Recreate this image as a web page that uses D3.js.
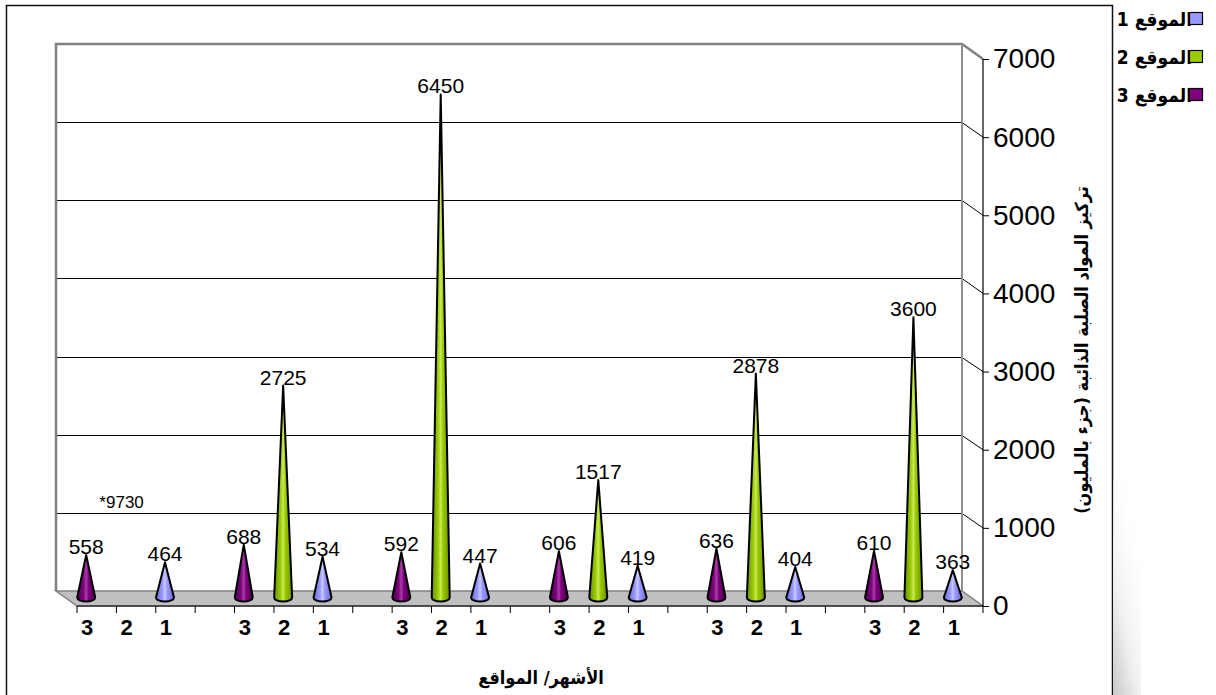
<!DOCTYPE html>
<html>
<head>
<meta charset="utf-8">
<script src="https://cdn.jsdelivr.net/npm/d3@7"></script>
<style>
  html, body { margin: 0; padding: 0; background: #fff; }
  svg { display: block; }
  text { font-family: "Liberation Sans", "DejaVu Sans", Arial, sans-serif; }
  text.ar { font-family: "DejaVu Sans Condensed", "DejaVu Sans", sans-serif; }
</style>
</head>
<body>
<svg id="chart" width="1216" height="695"></svg>
<script>
// ---- data ----
const months = ["m1", "m2", "m3", "m4", "m5", "m6"];
const siteOrder = ["3", "2", "1"];              // left to right inside each month
const site1 = [464, 534, 447, 419, 404, 363];
const site2 = [9730, 2725, 6450, 1517, 2878, 3600];
const site3 = [558, 688, 592, 606, 636, 610];
const yTicks = [0, 1000, 2000, 3000, 4000, 5000, 6000, 7000];
const legendLabels = ["الموقع 1", "الموقع 2", "الموقع 3"];
const yTitle = "تركيز  المواد الصلبة الذائبة (جزء بالمليون)";
const xTitle = "الأشهر/ المواقع";

const seriesValues = { "1": site1, "2": site2, "3": site3 };
const seriesStyle = {
  "1": { dark: "#6c6cd6", mid: "#9999ff", light: "#c9c9ff" },
  "2": { dark: "#6b8e00", mid: "#99cc00", light: "#cce85c" },
  "3": { dark: "#4a004a", mid: "#800080", light: "#a640a6" }
};

// slots: 3 sites per month with an empty slot between months
const slots = [];
months.forEach((m, mi) => {
  siteOrder.forEach(s => slots.push({ key: m + "-" + s, site: s, value: seriesValues[s][mi] }));
  if (mi < months.length - 1) slots.push({ key: m + "-gap", site: "", value: null });
});

const svg = d3.select("#chart");

// outer chart frame
svg.append("rect").attr("x", 6.5).attr("y", 5.5).attr("width", 1106).attr("height", 700)
  .attr("fill", "none").attr("stroke", "#111").attr("stroke-width", 1.5);

// faint shading along the lower right edge
const defs = svg.append("defs");
const haze = defs.append("linearGradient").attr("id", "haze")
  .attr("x1", 0).attr("y1", 1).attr("x2", 0.6).attr("y2", 0);
haze.append("stop").attr("offset", "0%").attr("stop-color", "#c8c8c8");
haze.append("stop").attr("offset", "40%").attr("stop-color", "#efefef");
haze.append("stop").attr("offset", "100%").attr("stop-color", "#ffffff").attr("stop-opacity", 0);
svg.append("rect").attr("x", 1113).attr("y", 480).attr("width", 28).attr("height", 215)
  .attr("fill", "url(#haze)");

// ---- 3D geometry ----
const depthX = 21, depthY = 15;
const x = d3.scaleBand().domain(slots.map(d => d.key)).range([77, 983]).paddingInner(0).paddingOuter(0);
const yFront = d3.scaleLinear().domain([0, 7000]).range([606, 59]);
const yBack = v => yFront(v) - depthY;
const yMid = v => yFront(v) - depthY / 2;
const xLeftBack = x.range()[0] - depthX, xRightBack = x.range()[1] - depthX;
const xRightFront = x.range()[1];

// back wall
svg.append("rect").attr("x", xLeftBack).attr("y", yBack(7000))
  .attr("width", xRightBack - xLeftBack).attr("height", yBack(0) - yBack(7000))
  .attr("fill", "#fff");

// floor
svg.append("path")
  .attr("d", `M${xLeftBack},${yBack(0)} L${xRightBack},${yBack(0)} L${xRightFront},${yFront(0)} L${x.range()[0]},${yFront(0)} Z`)
  .attr("fill", "#c0c0c0").attr("stroke", "#808080").attr("stroke-width", 1.5);

// gridlines on the back wall, carried to the axis along the side
const grid = svg.append("g");
yTicks.filter(v => v > 0 && v < 7000).forEach(v => {
  const yb = Math.round(yBack(v)) + 0.5;
  grid.append("path")
    .attr("d", `M${xLeftBack},${yb} L${xRightBack},${yb} L${xRightFront},${yFront(v)}`)
    .attr("fill", "none").attr("stroke", "#000").attr("stroke-width", 1);
});

// wall edges
svg.append("path")
  .attr("d", `M${xLeftBack},${yBack(0)} L${xLeftBack},${yBack(7000)} L${xRightBack},${yBack(7000)} L${xRightFront},${yFront(7000)}`)
  .attr("fill", "none").attr("stroke", "#808080").attr("stroke-width", 2.5);
svg.append("line").attr("x1", xRightBack).attr("x2", xRightBack)
  .attr("y1", yBack(7000)).attr("y2", yBack(0))
  .attr("stroke", "#909090").attr("stroke-width", 2);

// value axis on the right
const yAxis = d3.axisRight(yFront).tickValues(yTicks).tickSize(6).tickPadding(4).tickFormat(d3.format("d"));
const yg = svg.append("g").attr("transform", `translate(${xRightFront},0)`).call(yAxis);
yg.select(".domain").attr("stroke", "#000").attr("stroke-width", 1.2).attr("d", `M0,${yFront(7000)}V${yFront(0)}`);
yg.selectAll(".tick line").attr("stroke", "#000");
yg.selectAll(".tick text").attr("font-size", 28).attr("fill", "#000")
  .attr("font-family", "'Liberation Sans', Arial, sans-serif");

// category axis along the front edge of the floor
svg.append("line").attr("x1", x.range()[0]).attr("x2", xRightFront)
  .attr("y1", yFront(0)).attr("y2", yFront(0)).attr("stroke", "#000").attr("stroke-width", 1.2);
const boundaries = slots.map(d => x(d.key)).concat([x.range()[1]]);
svg.append("g").selectAll("line").data(boundaries).join("line")
  .attr("x1", d => d).attr("x2", d => d)
  .attr("y1", yFront(0)).attr("y2", yFront(0) + 7)
  .attr("stroke", "#000").attr("stroke-width", 1);

const coneX = d => x(d.key) + x.bandwidth() / 2 - depthX / 2;

svg.append("g").selectAll("text").data(slots.filter(d => d.site)).join("text")
  .attr("x", d => coneX(d) + 1)
  .attr("y", yFront(0) + 29)
  .attr("text-anchor", "middle")
  .attr("font-size", 22).attr("font-weight", "bold").attr("fill", "#000")
  .text(d => d.site);

// cone gradients
Object.entries(seriesStyle).forEach(([k, c]) => {
  const g = defs.append("linearGradient").attr("id", "cone" + k)
    .attr("x1", 0).attr("y1", 0).attr("x2", 1).attr("y2", 0);
  g.append("stop").attr("offset", "0%").attr("stop-color", c.dark);
  g.append("stop").attr("offset", "35%").attr("stop-color", c.mid);
  g.append("stop").attr("offset", "50%").attr("stop-color", c.light);
  g.append("stop").attr("offset", "62%").attr("stop-color", c.mid);
  g.append("stop").attr("offset", "100%").attr("stop-color", c.dark);
});

// cones
const maxV = yFront.domain()[1];
const drawn = slots.filter(d => d.site && d.value != null && d.value <= maxV);
const coneW = 18, baseRy = 4;
svg.append("g").selectAll("path").data(drawn).join("path")
  .attr("d", d => {
    const cx = coneX(d), by = yMid(0) - 1, ty = yMid(d.value);
    return `M${cx - coneW / 2},${by} L${cx},${ty} L${cx + coneW / 2},${by} A${coneW / 2},${baseRy} 0 0 1 ${cx - coneW / 2},${by} Z`;
  })
  .attr("fill", d => `url(#cone${d.site})`)
  .attr("stroke", "#000").attr("stroke-width", 2).attr("stroke-linejoin", "round");

// value labels
svg.append("g").selectAll("text").data(drawn).join("text")
  .attr("x", d => coneX(d))
  .attr("y", d => yMid(d.value) - 1)
  .attr("text-anchor", "middle")
  .attr("font-size", 21).attr("fill", "#000")
  .text(d => d.value);

// values beyond the axis are written as a note instead of a cone
const offScale = slots.filter(d => d.site && d.value != null && d.value > maxV);
svg.append("g").selectAll("text").data(offScale).join("text")
  .attr("x", d => coneX(d) - 4)
  .attr("y", yMid(1160))
  .attr("text-anchor", "middle")
  .attr("font-size", 17).attr("fill", "#000")
  .text(d => "*" + d.value);

// axis titles
svg.append("text").attr("class", "ar")
  .attr("transform", "translate(1088,350) rotate(-90)")
  .attr("text-anchor", "middle").attr("direction", "rtl")
  .attr("font-size", 18).attr("font-weight", "bold").attr("fill", "#000")
  .style("unicode-bidi", "embed")
  .text(yTitle);

svg.append("text").attr("class", "ar")
  .attr("x", 541).attr("y", 684)
  .attr("text-anchor", "middle").attr("direction", "rtl")
  .attr("font-size", 18).attr("font-weight", "bold").attr("fill", "#000")
  .style("unicode-bidi", "embed")
  .text(xTitle);

// legend
const legend = svg.append("g");
const legendKeys = ["1", "2", "3"];
legendKeys.forEach((k, i) => {
  const cy = 19 + i * 38;
  legend.append("text").attr("class", "ar")
    .attr("x", 1192).attr("y", cy + 7)
    .attr("text-anchor", "start").attr("direction", "rtl")
    .style("unicode-bidi", "embed")
    .attr("font-size", 19).attr("font-weight", "bold").attr("fill", "#000")
    .text(legendLabels[i]);
  legend.append("rect")
    .attr("x", 1189.5).attr("y", cy - 6.5).attr("width", 13).attr("height", 12)
    .attr("fill", seriesStyle[k].mid).attr("stroke", "#000").attr("stroke-width", 1.2);
});
</script>
</body>
</html>
